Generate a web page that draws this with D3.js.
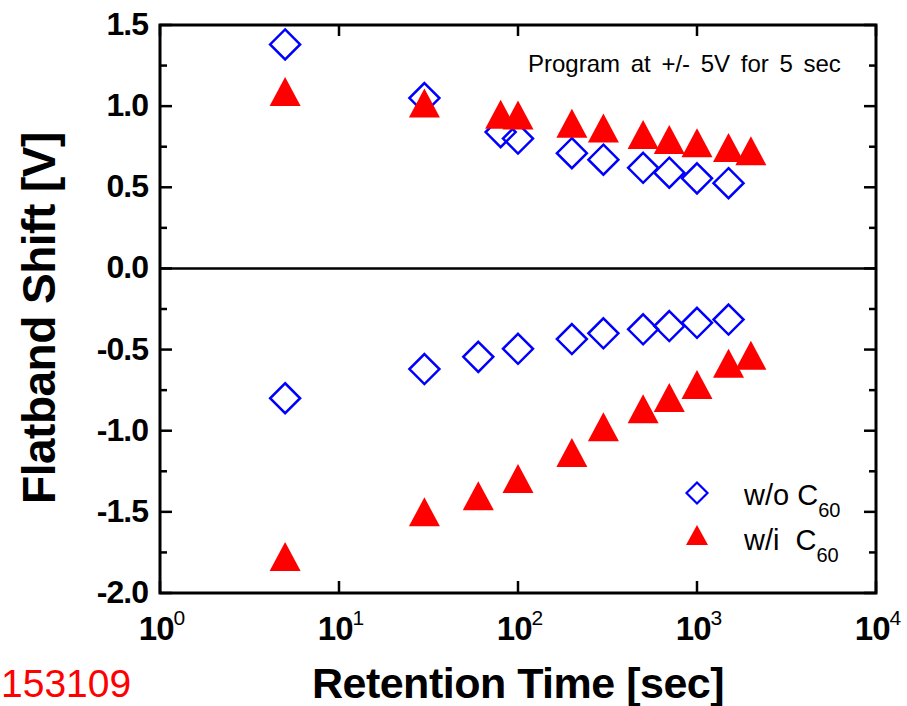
<!DOCTYPE html>
<html>
<head>
<meta charset="utf-8">
<script src="https://cdn.jsdelivr.net/npm/d3@7"></script>
<style>
    body { margin: 0; background: #fff; }
    svg { display: block; font-family: "Liberation Sans", Arial, sans-serif; }
</style>
</head>
<body>
<div id="chart"></div>
<script>
// Données (temps en secondes, décalage en volts)
const timeProgWo = [5, 30, 80, 100, 200, 300, 500, 700, 1000, 1500];
const shiftProgWo = [1.38, 1.05, 0.84, 0.80, 0.71, 0.67, 0.62, 0.59, 0.555, 0.525];

const timeProgWi = [5, 30, 80, 100, 200, 300, 500, 700, 1000, 1500, 2000];
const shiftProgWi = [1.09, 1.02, 0.95, 0.945, 0.895, 0.865, 0.825, 0.795, 0.775, 0.745, 0.725];

const timeEraseWo = [5, 30, 60, 100, 200, 300, 500, 700, 1000, 1500];
const shiftEraseWo = [-0.80, -0.62, -0.545, -0.495, -0.435, -0.40, -0.375, -0.355, -0.335, -0.315];

const timeEraseWi = [5, 30, 60, 100, 200, 300, 500, 700, 1000, 1500, 2000];
const shiftEraseWi = [-1.775, -1.50, -1.40, -1.295, -1.135, -0.975, -0.865, -0.795, -0.715, -0.585, -0.535];

const xTickExponents = [0, 1, 2, 3, 4];
const yTickValues = [-2.0, -1.5, -1.0, -0.5, 0.0, 0.5, 1.0, 1.5];
const yMinorValues = [-1.75, -1.25, -0.75, -0.25, 0.25, 0.75, 1.25];

const legendLabels = ["w/o C", "w/i  C"];

const width = 907, height = 706;
const plotLeft = 160, plotRight = 876, plotTop = 25, plotBottom = 593;

const svg = d3.select("#chart")
    .append("svg")
    .attr("width", width)
    .attr("height", height);

const x = d3.scaleLog().domain([1, 1e4]).range([plotLeft, plotRight]);
const y = d3.scaleLinear().domain([-2.0, 1.5]).range([plotBottom, plotTop]);

// Graduations des axes (vers l'intérieur)
function drawTicks() {
    const g = svg.append("g").attr("stroke", "#000").attr("stroke-width", 2.5);

    // gauche et droite
    yTickValues.forEach(v => {
        g.append("line").attr("x1", plotLeft).attr("x2", plotLeft + 12).attr("y1", y(v)).attr("y2", y(v));
        g.append("line").attr("x1", plotRight).attr("x2", plotRight - 12).attr("y1", y(v)).attr("y2", y(v));
    });
    yMinorValues.forEach(v => {
        g.append("line").attr("x1", plotLeft).attr("x2", plotLeft + 7).attr("y1", y(v)).attr("y2", y(v));
        g.append("line").attr("x1", plotRight).attr("x2", plotRight - 7).attr("y1", y(v)).attr("y2", y(v));
    });

    // bas et haut
    xTickExponents.forEach(e => {
        const xv = x(Math.pow(10, e));
        g.append("line").attr("x1", xv).attr("x2", xv).attr("y1", plotBottom).attr("y2", plotBottom - 12);
        g.append("line").attr("x1", xv).attr("x2", xv).attr("y1", plotTop).attr("y2", plotTop + 11);
    });
}

function drawTickLabels() {
    svg.append("g")
        .selectAll("text")
        .data(yTickValues)
        .enter()
        .append("text")
        .attr("x", plotLeft - 12)
        .attr("y", d => y(d) + 10)
        .attr("text-anchor", "end")
        .attr("font-size", 32)
        .attr("font-weight", "bold")
        .attr("letter-spacing", -1)
        .text(d => d.toFixed(1));

    const xl = svg.append("g")
        .selectAll("text")
        .data(xTickExponents)
        .enter()
        .append("text")
        .attr("x", d => x(Math.pow(10, d)) + 2)
        .attr("y", 640)
        .attr("text-anchor", "middle")
        .attr("font-weight", "bold");
    xl.append("tspan").attr("font-size", 33).attr("letter-spacing", -1).text("10");
    xl.append("tspan").attr("font-size", 21).attr("dy", -15).attr("font-weight", "normal").text(d => d);
}

// Symboles
const diamond = r => `M0,${-r}L${r},0L0,${r}L${-r},0Z`;
const triangle = (w, h) => `M0,${-h / 2}L${w / 2},${h / 2}L${-w / 2},${h / 2}Z`;

function drawDiamonds(times, values) {
    svg.append("g")
        .selectAll("path")
        .data(times.map((t, i) => [t, values[i]]))
        .enter()
        .append("path")
        .attr("transform", d => "translate(" + x(d[0]) + "," + y(d[1]) + ")")
        .attr("d", diamond(15))
        .attr("fill", "none")
        .attr("stroke", "#0000ff")
        .attr("stroke-width", 2.5);
}

function drawTriangles(times, values) {
    svg.append("g")
        .selectAll("path")
        .data(times.map((t, i) => [t, values[i]]))
        .enter()
        .append("path")
        .attr("transform", d => "translate(" + x(d[0]) + "," + y(d[1]) + ")")
        .attr("d", triangle(31, 29))
        .attr("fill", "#ff0000");
}

// Ligne zéro
svg.append("line")
    .attr("x1", plotLeft).attr("x2", plotRight)
    .attr("y1", y(0)).attr("y2", y(0))
    .attr("stroke", "#000")
    .attr("stroke-width", 2.5);

drawTicks();

drawDiamonds(timeProgWo, shiftProgWo);
drawDiamonds(timeEraseWo, shiftEraseWo);
drawTriangles(timeProgWi, shiftProgWi);
drawTriangles(timeEraseWi, shiftEraseWi);

// Cadre
svg.append("rect")
    .attr("x", plotLeft).attr("y", plotTop)
    .attr("width", plotRight - plotLeft).attr("height", plotBottom - plotTop)
    .attr("fill", "none")
    .attr("stroke", "#000")
    .attr("stroke-width", 3);

drawTickLabels();

// Titres des axes
svg.append("text")
    .attr("x", (plotLeft + plotRight) / 2)
    .attr("y", 698)
    .attr("text-anchor", "middle")
    .attr("font-size", 43)
    .attr("font-weight", "bold")
    .attr("letter-spacing", -0.5)
    .text("Retention Time [sec]");

svg.append("text")
    .attr("transform", "translate(55,318) rotate(-90)")
    .attr("text-anchor", "middle")
    .attr("font-size", 46)
    .attr("font-weight", "bold")
    .attr("letter-spacing", -0.5)
    .text("Flatband Shift [V]");

// Annotation
svg.append("text")
    .attr("x", 528)
    .attr("y", 72)
    .attr("font-size", 24)
    .attr("word-spacing", 4)
    .text("Program at +/- 5V for 5 sec");

// Légende
const legend = svg.append("g");
legend.append("path")
    .attr("transform", "translate(697,493)")
    .attr("d", diamond(10.5))
    .attr("fill", "none")
    .attr("stroke", "#0000ff")
    .attr("stroke-width", 2.2);
legend.append("path")
    .attr("transform", "translate(697,535)")
    .attr("d", triangle(22, 20))
    .attr("fill", "#ff0000");

legendLabels.forEach((lab, i) => {
    const t = legend.append("text")
        .attr("x", 744)
        .attr("y", 505 + i * 45)
        .attr("font-size", 29)
        .style("white-space", "pre");
    t.append("tspan").text(lab);
    t.append("tspan").attr("font-size", 20).attr("dy", 12).text("60");
});

// Numéro en rouge en bas à gauche
svg.append("text")
    .attr("x", 1)
    .attr("y", 697)
    .attr("font-size", 39)
    .attr("fill", "#ff0000")
    .text("153109");
</script>
</body>
</html>
